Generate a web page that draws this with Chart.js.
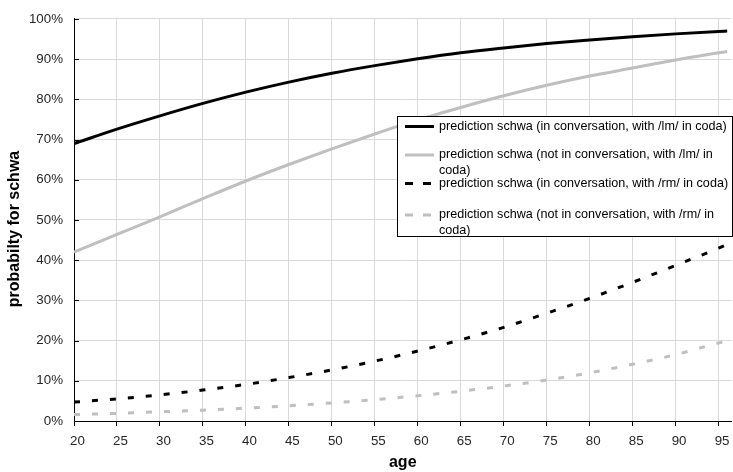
<!DOCTYPE html>
<html>
<head>
<meta charset="utf-8">
<script src="https://cdn.jsdelivr.net/npm/chart.js@4.4.1/dist/chart.umd.min.js"></script>
<style>
html,body{margin:0;padding:0;background:#fff;}
#wrap{width:733px;height:472px;position:relative;}
</style>
</head>
<body>
<div id="wrap"><canvas id="c"></canvas></div>
<script>
const ages = [20,25,30,35,40,45,50,55,60,65,70,75,80,85,90,95,96];
const convLm    = [69.0,72.6,75.9,79.0,81.8,84.3,86.5,88.4,90.1,91.6,92.8,93.9,94.8,95.6,96.3,96.9,97.0];
const noConvLm  = [42.0,46.4,50.8,55.3,59.7,63.8,67.7,71.4,74.9,78.0,80.9,83.5,85.8,87.8,89.8,91.6,91.9];
const convRm    = [4.7,5.5,6.5,7.7,9.1,10.8,12.7,14.9,17.4,20.2,23.3,26.8,30.5,34.5,38.7,43.0,43.9];
const noConvRm  = [1.6,1.9,2.3,2.7,3.2,3.8,4.5,5.3,6.3,7.4,8.7,10.2,12.0,14.1,16.5,19.4,19.9];
const xTicks = [20,25,30,35,40,45,50,55,60,65,70,75,80,85,90,95];
const yTicks = [0,10,20,30,40,50,60,70,80,90,100];
const xTitle = 'age';
const yTitle = 'probabilty for schwa';
const seriesLabels = [
  ["prediction schwa (in conversation, with /lm/ in coda)"],
  ["prediction schwa (not in conversation, with /lm/ in", "coda)"],
  ["prediction schwa (in conversation, with /rm/ in coda)"],
  ["prediction schwa (not in conversation, with /rm/ in", "coda)"]
];

const FONT = '"Liberation Sans", Arial, sans-serif';
const toXY = arr => ages.map((a,i)=>({x:a,y:arr[i]}));

function ds(label, arr, color, dash){
  return {
    label: label.join(' '),
    lines: label,
    data: toXY(arr),
    borderColor: color,
    backgroundColor: color,
    borderWidth: 3,
    borderDash: dash,
    pointRadius: 0,
    cubicInterpolationMode: 'monotone',
    fill: false
  };
}

const extrasPlugin = {
  id: 'extras',
  afterDraw(chart){
    const ctx = chart.ctx;
    const ys = chart.scales.y;
    const left = chart.chartArea.left;
    ctx.save();
    ctx.strokeStyle = '#000';
    ctx.lineWidth = 1;
    yTicks.forEach(v => {
      const py = Math.round(ys.getPixelForValue(v)) + 0.5;
      ctx.beginPath();
      ctx.moveTo(left, py);
      ctx.lineTo(left + 5, py);
      ctx.stroke();
    });
    ctx.translate(15, 229);
    ctx.rotate(-Math.PI/2);
    ctx.font = 'bold 16px ' + FONT;
    ctx.fillStyle = '#000';
    ctx.textAlign = 'center';
    ctx.textBaseline = 'middle';
    ctx.fillText(yTitle, 0, 0);
    ctx.restore();

    ctx.save();
    const x0 = 397.5, y0 = 116.5, x1 = 732.5, y1 = 236.5;
    ctx.fillStyle = '#fff';
    ctx.fillRect(x0, y0, x1-x0, y1-y0);
    ctx.strokeStyle = '#000';
    ctx.lineWidth = 1;
    ctx.strokeRect(x0, y0, x1-x0, y1-y0);
    const rowY = [126.5, 155, 183.5, 215];
    ctx.font = '12.6px ' + FONT;
    ctx.textBaseline = 'middle';
    ctx.textAlign = 'left';
    chart.data.datasets.forEach((d, i) => {
      const y = rowY[i];
      ctx.beginPath();
      ctx.strokeStyle = d.borderColor;
      ctx.lineWidth = 3;
      ctx.setLineDash(d.borderDash && d.borderDash.length ? [8,10] : []);
      ctx.moveTo(405, y);
      ctx.lineTo(434, y);
      ctx.stroke();
      ctx.setLineDash([]);
      ctx.fillStyle = '#000';
      d.lines.forEach((t, k) => ctx.fillText(t, 439, y + k*15.5));
    });
    ctx.restore();
  }
};

new Chart(document.getElementById('c'), {
  type: 'line',
  data: {
    datasets: [
      ds(seriesLabels[0], convLm, '#000000', []),
      ds(seriesLabels[1], noConvLm, '#bfbfbf', []),
      ds(seriesLabels[2], convRm, '#000000', [6,12]),
      ds(seriesLabels[3], noConvRm, '#bfbfbf', [6,12])
    ]
  },
  options: {
    responsive: true,
    maintainAspectRatio: false,
    animation: false,
    layout: { padding: { top: 18, right: 0, left: 0, bottom: 0 } },
    plugins: { legend: { display: false }, tooltip: { enabled: false } },
    scales: {
      x: {
        type: 'linear',
        min: 20, max: 96.5,
        afterBuildTicks: s => { s.ticks = xTicks.map(v => ({value: v})); },
        afterFit: s => { s.height = 51; },
        grid: { color: '#d9d9d9', tickColor: '#000', tickLength: 5, lineWidth: 1 },
        border: { color: '#000', width: 1 },
        ticks: { color: '#262626', font: { family: FONT, size: 13.33 }, padding: 7, labelOffset: 3.5, maxRotation: 0, autoSkip: false },
        title: { display: true, text: xTitle, color: '#000', font: { family: FONT, size: 16, weight: 'bold' }, padding: { top: 0, bottom: 0 } }
      },
      y: {
        min: 0, max: 100,
        afterBuildTicks: s => { s.ticks = yTicks.map(v => ({value: v})); },
        afterFit: s => { s.width = 74; },
        grid: { color: '#d9d9d9', drawTicks: false, lineWidth: 1 },
        border: { color: '#000', width: 1 },
        ticks: { color: '#262626', font: { family: FONT, size: 13.33 }, padding: 11, callback: v => v + '%' },
        title: { display: false, text: yTitle }
      }
    }
  },
  plugins: [extrasPlugin]
});
</script>
</body>
</html>
